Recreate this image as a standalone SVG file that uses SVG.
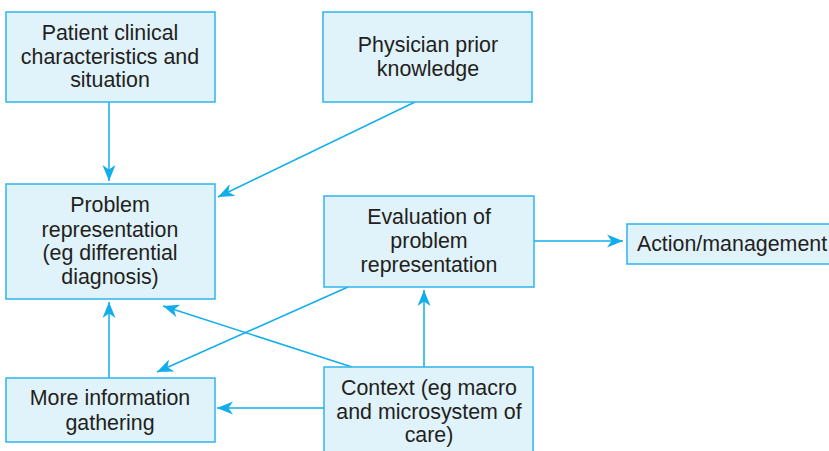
<svg xmlns="http://www.w3.org/2000/svg" width="829" height="451" viewBox="0 0 829 451">
<defs>
<marker id="ah" markerUnits="userSpaceOnUse" markerWidth="18" markerHeight="14" refX="16" refY="7" orient="auto">
<path d="M0,0.5 L16,7 L0,13.5 L4.5,7 Z" fill="#12aeec"/>
</marker>
<style>
.box{fill:#e0f2fa;stroke:#2fb4ec;stroke-width:1.5}
.t{font-family:"Liberation Sans",Arial,sans-serif;font-size:21.4px;fill:#231f20;text-anchor:middle}
.c{stroke:#12aeec;stroke-width:1.5;fill:none;marker-end:url(#ah)}
</style>
</defs>
<rect width="829" height="451" fill="#ffffff"/>
<g id="connectors">
<line class="c" x1="109" y1="102" x2="109" y2="181"/>
<line class="c" x1="415" y1="102" x2="218" y2="197"/>
<line class="c" x1="534" y1="241" x2="623" y2="241"/>
<line class="c" x1="424" y1="367" x2="424" y2="290"/>
<line class="c" x1="324" y1="408" x2="217" y2="408"/>
<line class="c" x1="109" y1="378" x2="109" y2="302"/>
<line class="c" x1="348" y1="287" x2="157" y2="372"/>
<line class="c" x1="352" y1="367" x2="163" y2="306"/>
</g>
<g id="patient">
<rect class="box" x="6" y="12" width="209" height="90"/>
<text class="t" x="110" y="40">Patient clinical</text>
<text class="t" x="110" y="64">characteristics and</text>
<text class="t" x="110" y="87">situation</text>
</g>
<g id="physician">
<rect class="box" x="323" y="12" width="209" height="90"/>
<text class="t" x="428" y="52">Physician prior</text>
<text class="t" x="428" y="76">knowledge</text>
</g>
<g id="problem">
<rect class="box" x="6" y="184" width="209" height="115"/>
<text class="t" x="110" y="212">Problem</text>
<text class="t" x="110" y="237">representation</text>
<text class="t" x="110" y="260">(eg differential</text>
<text class="t" x="110" y="284">diagnosis)</text>
</g>
<g id="evaluation">
<rect class="box" x="324" y="196" width="210" height="91"/>
<text class="t" x="429" y="224">Evaluation of</text>
<text class="t" x="429" y="248">problem</text>
<text class="t" x="429" y="272">representation</text>
</g>
<g id="action">
<rect class="box" x="627" y="224" width="206" height="40"/>
<text class="t" x="732" y="251">Action/management</text>
</g>
<g id="moreinfo">
<rect class="box" x="6" y="378" width="209" height="64"/>
<text class="t" x="110" y="405">More information</text>
<text class="t" x="110" y="430">gathering</text>
</g>
<g id="context">
<rect class="box" x="324" y="367" width="209" height="90"/>
<text class="t" x="429" y="395">Context (eg macro</text>
<text class="t" x="429" y="419">and microsystem of</text>
<text class="t" x="429" y="442">care)</text>
</g>
</svg>
